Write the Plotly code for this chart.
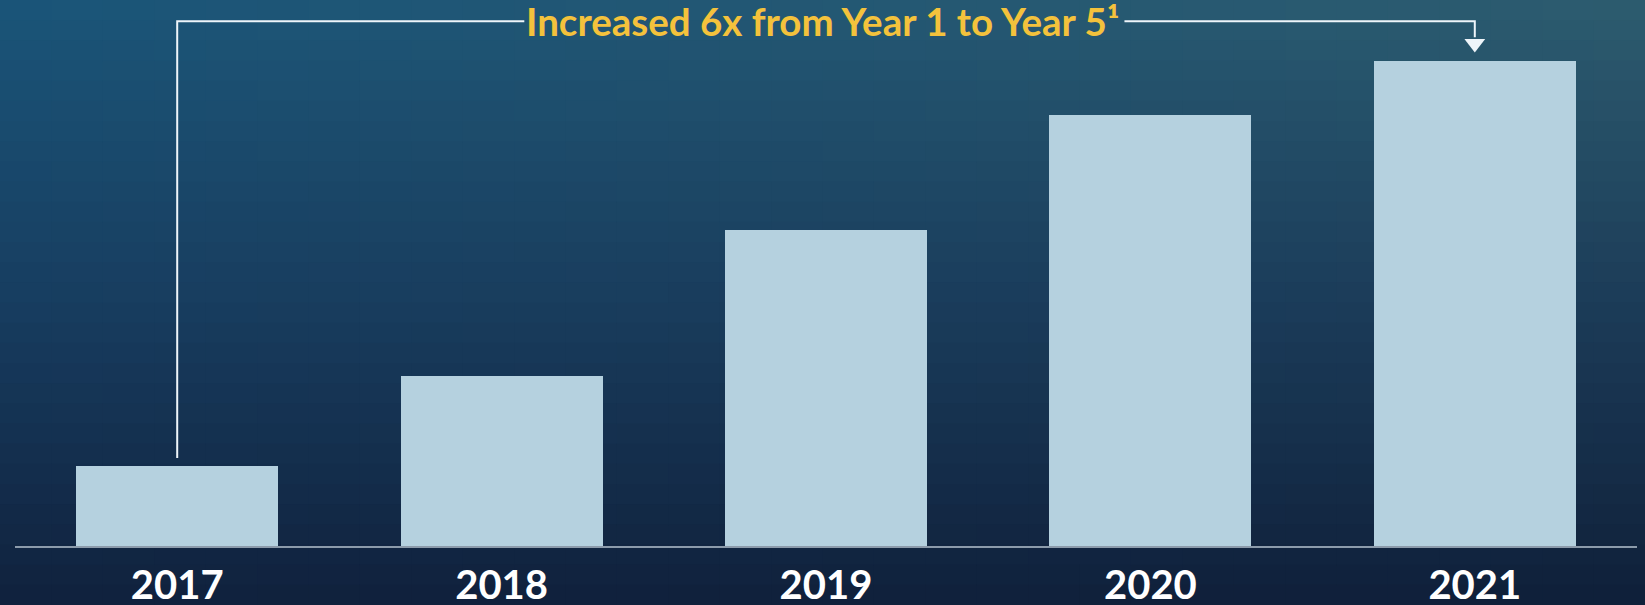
import plotly.graph_objects as go

# ---- data ----
years = [2017, 2018, 2019, 2020, 2021]
tick_labels = ["2017", "2018", "2019", "2020", "2021"]
growth_vs_year1 = [1.0, 2.12, 3.95, 5.39, 6.06]  # relative to Year 1
headline = "Increased 6x from Year 1 to Year 5¹"

# ---- styles ----
BAR_COLOR = "#b5d1df"
TEXT_GOLD = "#f4c23c"
LINE_WHITE = "#eef5fa"
AXIS_COLOR = "#8c9bab"
# background gradient control colours (rows: top, middle, bottom; cols: left, right)
BG = [["#1a5579", "#2d5c6f"],
      ["#173d60", "#1c3c58"],
      ["#10213d", "#0f1f39"]]

W, H = 1645, 605
ML, MR, MT, MB = 15, 8, 0, 59
PW, PH = W - ML - MR, H - MT - MB


def hex2rgb(h):
    h = h.lstrip("#")
    return [int(h[i:i + 2], 16) for i in (0, 2, 4)]


def lerp(a, b, t):
    return [a[i] + (b[i] - a[i]) * t for i in range(3)]


def bg_color(u, v):
    # u: 0 left -> 1 right, v: 0 top -> 1 bottom
    if v <= 0.5:
        t = v / 0.5
        left = lerp(hex2rgb(BG[0][0]), hex2rgb(BG[1][0]), t)
        right = lerp(hex2rgb(BG[0][1]), hex2rgb(BG[1][1]), t)
    else:
        t = (v - 0.5) / 0.5
        left = lerp(hex2rgb(BG[1][0]), hex2rgb(BG[2][0]), t)
        right = lerp(hex2rgb(BG[1][1]), hex2rgb(BG[2][1]), t)
    c = lerp(left, right, u)
    return "rgb(%d,%d,%d)" % tuple(round(x) for x in c)


def fig_to_paper_x(px):
    return (px - ML) / PW


def fig_to_paper_y(py):  # py measured from top of figure
    return (H - MB - py) / PH


shapes = []
NC, NR = 32, 30
for i in range(NC):
    for j in range(NR):
        x0 = W * i / NC
        x1 = W * (i + 1) / NC + 1
        y0 = H * j / NR
        y1 = H * (j + 1) / NR + 1
        shapes.append(dict(
            type="rect", xref="paper", yref="paper", layer="below",
            x0=fig_to_paper_x(x0), x1=fig_to_paper_x(x1),
            y0=fig_to_paper_y(y1), y1=fig_to_paper_y(y0),
            fillcolor=bg_color((i + 0.5) / NC, (j + 0.5) / NR),
            line=dict(width=0)))

fig = go.Figure()
fig.add_trace(go.Bar(
    x=years, y=growth_vs_year1, width=0.6225,
    marker=dict(color=BAR_COLOR, line=dict(width=0)),
    hoverinfo="skip"))

top_val = max(growth_vs_year1)
bracket_y = top_val + 0.50
first_x, last_x = years[0], years[-1]

# arrow head pointing at the last bar
fig.add_trace(go.Scatter(
    x=[last_x], y=[growth_vs_year1[-1] + 0.22], mode="markers",
    marker=dict(symbol="triangle-down", size=18, color=LINE_WHITE, line=dict(width=0)),
    hoverinfo="skip"))

# left part of bracket
shapes.append(dict(
    type="path", xref="x", yref="y", layer="above",
    path=f"M {first_x},{growth_vs_year1[0] + 0.10} L {first_x},{bracket_y} L 2018.07,{bracket_y}",
    line=dict(color=LINE_WHITE, width=2)))
# right part of bracket
shapes.append(dict(
    type="path", xref="x", yref="y", layer="above",
    path=f"M 2019.92,{bracket_y} L {last_x},{bracket_y} L {last_x},{growth_vs_year1[-1] + 0.3}",
    line=dict(color=LINE_WHITE, width=2)))

annotations = [
    dict(x=2018.99, y=bracket_y, xref="x", yref="y",
         text=headline, showarrow=False, xanchor="center", yanchor="middle",
         font=dict(family="Lato", size=38.5, color=TEXT_GOLD, weight="bold")),
]

fig.update_layout(
    width=W, height=H,
    margin=dict(l=ML, r=MR, t=MT, b=MB, autoexpand=False),
    paper_bgcolor=BG[2][0], plot_bgcolor="rgba(0,0,0,0)",
    showlegend=False, bargap=0,
    shapes=shapes, annotations=annotations,
    xaxis=dict(range=[2016.5, 2021.5], tickvals=years, ticktext=tick_labels,
               showgrid=False, zeroline=False, showline=True,
               linecolor=AXIS_COLOR, linewidth=2, ticks="",
               ticklabelstandoff=3, automargin=False,
               tickfont=dict(family="Lato", size=40, color="#ffffff", weight="bold"),
               fixedrange=True),
    yaxis=dict(range=[0, 6.825], visible=False, showgrid=False, zeroline=False,
               automargin=False, fixedrange=True),
)

fig.write_html("out.html", config={"displayModeBar": False})
